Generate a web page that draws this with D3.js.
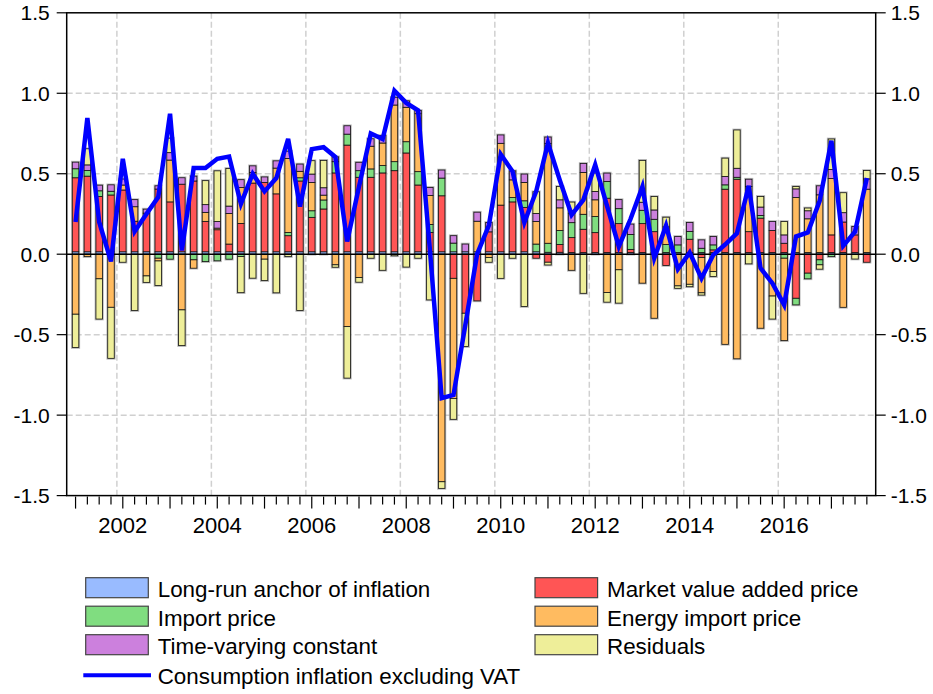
<!DOCTYPE html>
<html>
<head>
<meta charset="utf-8">
<script src="https://cdn.jsdelivr.net/npm/d3@7"></script>
<style>
  body { margin: 0; background: #fff; }
  svg { font-family: "Liberation Sans", Arial, sans-serif; }
</style>
</head>
<body>
<div id="chart"></div>
<script>
// quarters 2001Q1 .. 2017Q4
const years = [2001, 2002, 2003, 2004, 2005, 2006, 2007, 2008, 2009, 2010, 2011, 2012, 2013, 2014, 2015, 2016, 2017];
const quarters = [];
years.forEach(y => [1, 2, 3, 4].forEach(q => quarters.push(y + "Q" + q)));

const labelYears = [2002, 2004, 2006, 2008, 2010, 2012, 2014, 2016];
const yTicks = [-1.5, -1.0, -0.5, 0.0, 0.5, 1.0, 1.5];
const yGrid = [-1.0, -0.5, 0.5, 1.0];

const anchor = [
  0.015, 0.015, 0.015, 0.015, 0.015, 0.015, 0.015, 0.015, 0.015, 0.015,
  0.015, 0.015, 0.015, 0.015, 0.015, 0.015, 0.015, 0.015, 0.015, 0.015,
  0.015, 0.015, 0.015, 0.015, 0.015, 0.015, 0.015, 0.015, 0.015, 0.015,
  0.015, 0.015, 0.015, 0.015, 0.015, 0.015, 0.015, 0.015, 0.015, 0.015,
  0.012, 0.012, 0.01, 0.01, 0.01, 0.01, 0.01, 0.01, 0.01, 0.01,
  0.01, 0.01, 0.01, 0.01, 0.01, 0.01, 0.01, 0.01, 0.01, 0.01,
  0.01, 0.01, 0.01, 0.01, 0.01, 0.01, 0.01, 0.01
];
const market = [
  0.46, 0.47, 0.344, 0.353, 0.384, 0.19, 0.24, 0.39, 0.31, 0.42,
  0.44, 0.189, 0.137, 0.048, 0.176, 0.427, 0.43, 0.36, 0.1, 0.44,
  0.214, 0.266, 0.49, 0.663, 0.463, 0.463, 0.49, 0.504, 0.614, 0.415,
  0.12, 0.348, -0.15, -0.367, -0.29, 0.124, 0.29, 0.31, 0.276, -0.025,
  -0.05, 0.048, 0.093, 0.145, 0.124, 0.338, 0.18, 0.02, 0.18, 0.13,
  -0.07, 0, 0.083, -0.02, 0.017, 0.394, 0.456, 0.13, 0.214, 0.137,
  0.058, -0.274, -0.118, -0.035, 0.11, 0.19, 0.11, -0.05
];
const importPrice = [
  0.056, 0.035, 0.035, 0.023, 0, 0, 0, -0.025, -0.031, 0,
  -0.035, -0.046, -0.041, -0.031, -0.015, 0, 0, 0, 0.02, 0.02,
  0.041, 0.056, 0.07, 0.068, 0.041, 0.052, 0.046, 0.056, 0.07, 0.083,
  0.05, 0.11, 0.054, 0, 0, 0, 0, 0.027, 0.041, 0.048,
  0.056, 0.087, 0.093, 0.093, 0.1, 0.104, 0.093, 0.093, 0.083, 0.077,
  0.05, 0.048, 0.048, 0.027, 0.031, 0.027, 0.012, 0, 0.017, 0,
  -0.025, -0.041, -0.035, -0.031, -0.015, 0, 0, 0
];
const energy = [
  -0.373, -0.015, -0.153, -0.33, 0.031, 0.09, -0.135, -0.017, 0.26, -0.346,
  -0.052, 0.056, 0.01, 0.19, 0.224, 0.066, -0.031, 0.16, 0.46, 0.04,
  0.176, 0.03, -0.066, -0.45, -0.145, 0.141, 0.14, 0.352, 0.214, 0.36,
  0.18, -1.414, -0.746, 0, 0.19, -0.02, 0.384, 0.11, 0.114, 0.14,
  0.62, 0.141, -0.1, 0.26, 0.104, -0.238, -0.097, 0, -0.18, -0.398,
  0.11, -0.197, -0.187, -0.22, -0.108, -0.56, -0.65, 0.28, -0.46, -0.26,
  -0.512, 0.342, 0.21, 0.359, 0.35, -0.33, 0, 0.394
];
const tvc = [
  0.041, 0.035, 0.035, 0.04, 0.037, 0.044, 0.025, 0.02, 0.046, 0.04,
  0.03, 0.048, 0.041, 0.046, 0.048, 0.041, 0.035, 0.045, 0.045, 0.045,
  0.052, 0.046, 0.03, 0.052, 0.052, 0.046, 0.046, 0.048, 0.04, 0.02,
  0.05, 0.05, 0.046, 0.048, 0.056, 0.058, 0.052, 0.056, 0.052, 0.05,
  0.04, 0.05, 0.058, 0.056, 0.052, 0.052, 0.056, 0.064, 0.05, 0.058,
  0, 0.052, 0.056, 0.052, 0.052, 0.052, 0.056, 0.046, 0.052, 0.056,
  0.052, 0.054, 0.05, 0.056, 0.056, 0.058, 0.052, 0.064
];
const resid = [
  -0.207, 0.1, -0.25, -0.317, -0.05, -0.35, -0.04, -0.153, 0.09, -0.222,
  0, 0.149, 0.315, 0.234, -0.224, -0.149, -0.133, -0.24, -0.015, -0.35,
  0.083, 0.17, -0.015, -0.32, -0.029, -0.025, -0.1, -0.01, -0.08, -0.025,
  -0.284, -0.041, -0.13, -0.207, 0, -0.03, -0.15, -0.025, -0.325, 0.135,
  -0.017, 0.083, 0.07, -0.243, 0.114, -0.06, -0.207, 0, 0.26, 0.083,
  0.06, -0.015, -0.015, -0.014, -0.031, 0.114, 0.238, -0.06, 0.066, -0.143,
  0.083, 0.015, 0.017, -0.027, 0.19, 0.124, -0.03, 0.052
];
const inflation = [
  0.2, 0.846, 0.2, -0.045, 0.593, 0.141, 0.25, 0.355, 0.873, 0.023,
  0.535, 0.535, 0.593, 0.607, 0.313, 0.5, 0.39, 0.473, 0.717, 0.296,
  0.653, 0.665, 0.604, 0.079, 0.42, 0.75, 0.715, 1.016, 0.94, 0.894,
  0.03, -0.895, -0.875, -0.44, 0.0, 0.18, 0.62, 0.515, 0.197, 0.39,
  0.69, 0.46, 0.245, 0.338, 0.556, 0.3, 0.048, 0.22, 0.42, -0.025,
  0.178, -0.093, 0.01, -0.15, -0.004, 0.06, 0.13, 0.425, -0.087, -0.18,
  -0.315, 0.11, 0.135, 0.33, 0.705, 0.052, 0.14, 0.473
];

const seriesInfo = [
  {key: "anchor", name: "Long-run anchor of inflation", color: "#99bbff", values: anchor},
  {key: "market", name: "Market value added price", color: "#ff5555", values: market},
  {key: "import", name: "Import price", color: "#80dd80", values: importPrice},
  {key: "energy", name: "Energy import price", color: "#ffbb60", values: energy},
  {key: "tvc", name: "Time-varying constant", color: "#cc80dd", values: tvc},
  {key: "resid", name: "Residuals", color: "#eeee99", values: resid}
];

const table = quarters.map((q, i) => {
  const row = {q: q};
  seriesInfo.forEach(s => row[s.key] = s.values[i]);
  return row;
});

const W = 933, H = 694;
const plotL = 66.7, plotR = 875.7, plotT = 12.8, plotB = 495.6;

const svg = d3.select("#chart").append("svg")
    .attr("width", W)
    .attr("height", H);

const x = d3.scaleBand()
    .domain(quarters)
    .range([plotL, plotR])
    .paddingInner(0.45)
    .paddingOuter(0.475);

const y = d3.scaleLinear()
    .domain([-1.5, 1.5])
    .range([plotB, plotT]);

const step = x.step();
const bw = x.bandwidth();
const cx = q => x(q) + bw / 2;

// grid
const grid = svg.append("g")
    .attr("stroke", "#d0d0d0")
    .attr("stroke-width", 1.5)
    .attr("stroke-dasharray", "6,3");

grid.selectAll("line.h")
    .data(yGrid)
    .enter()
    .append("line")
    .attr("x1", plotL).attr("x2", plotR)
    .attr("y1", d => y(d)).attr("y2", d => y(d));

grid.selectAll("line.v")
    .data(labelYears)
    .enter()
    .append("line")
    .attr("x1", d => cx(d + "Q1") - step / 2)
    .attr("x2", d => cx(d + "Q1") - step / 2)
    .attr("y1", plotT).attr("y2", plotB);

// stacked bars
const stacked = d3.stack()
    .keys(seriesInfo.map(s => s.key))
    .offset(d3.stackOffsetDiverging)(table);

// soft shadow around each bar
const ext = table.map((d, i) => ({
  q: d.q,
  lo: d3.min(stacked, s => s[i][0]),
  hi: d3.max(stacked, s => s[i][1])
}));

svg.append("g")
    .selectAll("rect")
    .data(ext)
    .enter()
    .append("rect")
    .attr("x", d => x(d.q))
    .attr("y", d => y(d.hi))
    .attr("width", bw)
    .attr("height", d => y(d.lo) - y(d.hi))
    .attr("fill", "none")
    .attr("stroke", "#999")
    .attr("stroke-opacity", 0.7)
    .attr("stroke-width", 2.6);

svg.append("g")
    .selectAll("g")
    .data(stacked)
    .enter()
    .append("g")
    .attr("fill", (d, i) => seriesInfo[i].color)
    .selectAll("rect")
    .data(d => d.filter(p => p[1] !== p[0]))
    .enter()
    .append("rect")
    .attr("x", d => x(d.data.q))
    .attr("y", d => y(Math.max(d[0], d[1])))
    .attr("width", bw)
    .attr("height", d => Math.abs(y(d[0]) - y(d[1])))
    .attr("stroke", "#111")
    .attr("stroke-width", 0.8);

// zero line
svg.append("line")
    .attr("x1", plotL).attr("x2", plotR)
    .attr("y1", y(0)).attr("y2", y(0))
    .attr("stroke", "#000")
    .attr("stroke-width", 1.5);

// inflation line
svg.append("path")
    .datum(inflation)
    .attr("fill", "none")
    .attr("stroke", "#0000ff")
    .attr("stroke-width", 4.5)
    .attr("stroke-linejoin", "miter")
    .attr("d", d3.line()
        .x((d, i) => cx(quarters[i]))
        .y(d => y(d)));

// frame
svg.append("rect")
    .attr("x", plotL).attr("y", plotT)
    .attr("width", plotR - plotL)
    .attr("height", plotB - plotT)
    .attr("fill", "none")
    .attr("stroke", "#000")
    .attr("stroke-width", 1.5);

// y axes
const fmt = d => d3.format(".1f")(d).replace("\u2212", "-");

const yl = svg.append("g");
yl.selectAll("line")
    .data(yTicks)
    .enter()
    .append("line")
    .attr("x1", plotL - 10).attr("x2", plotL)
    .attr("y1", d => y(d)).attr("y2", d => y(d))
    .attr("stroke", "#000").attr("stroke-width", 1.2);
yl.selectAll("text")
    .data(yTicks)
    .enter()
    .append("text")
    .attr("x", plotL - 17)
    .attr("y", d => y(d))
    .attr("dy", "0.36em")
    .attr("text-anchor", "end")
    .style("font-size", "21px")
    .text(fmt);

const yr = svg.append("g");
yr.selectAll("line")
    .data(yTicks)
    .enter()
    .append("line")
    .attr("x1", plotR).attr("x2", plotR + 10)
    .attr("y1", d => y(d)).attr("y2", d => y(d))
    .attr("stroke", "#000").attr("stroke-width", 1.2);
yr.selectAll("text")
    .data(yTicks)
    .enter()
    .append("text")
    .attr("x", plotR + 15)
    .attr("y", d => y(d))
    .attr("dy", "0.36em")
    .attr("text-anchor", "start")
    .style("font-size", "21px")
    .text(fmt);

// x axis ticks, long ones at Q1
const xa = svg.append("g");
xa.selectAll("line")
    .data(quarters)
    .enter()
    .append("line")
    .attr("x1", d => cx(d)).attr("x2", d => cx(d))
    .attr("y1", plotB + 1)
    .attr("y2", d => d.endsWith("Q1") ? plotB + 13 : plotB + 9)
    .attr("stroke", "#000").attr("stroke-width", 1.2);
xa.selectAll("text")
    .data(labelYears)
    .enter()
    .append("text")
    .attr("x", d => cx(d + "Q1"))
    .attr("y", 533)
    .attr("text-anchor", "middle")
    .style("font-size", "22px")
    .text(d => d);

// legend
const legendRows = [
  {s: seriesInfo[0], col: 0, row: 0},
  {s: seriesInfo[1], col: 1, row: 0},
  {s: seriesInfo[2], col: 0, row: 1},
  {s: seriesInfo[3], col: 1, row: 1},
  {s: seriesInfo[4], col: 0, row: 2},
  {s: seriesInfo[5], col: 1, row: 2}
];
const colX = [85.7, 535];
const rowY = [577.7, 606.2, 634.7, 663.2];

const lg = svg.append("g");
lg.selectAll("rect")
    .data(legendRows)
    .enter()
    .append("rect")
    .attr("x", d => colX[d.col])
    .attr("y", d => rowY[d.row])
    .attr("width", 62.6)
    .attr("height", 20)
    .attr("fill", d => d.s.color)
    .attr("stroke", "#444")
    .attr("stroke-width", 1.2);
lg.selectAll("text")
    .data(legendRows)
    .enter()
    .append("text")
    .attr("x", d => colX[d.col] + 72)
    .attr("y", d => rowY[d.row] + 19.5)
    .style("font-size", "22.4px")
    .text(d => d.s.name);

lg.append("line")
    .attr("x1", 83.3).attr("x2", 151)
    .attr("y1", 675.3).attr("y2", 675.3)
    .attr("stroke", "#0000ff")
    .attr("stroke-width", 4);
lg.append("text")
    .attr("x", 157.7)
    .attr("y", 683.5)
    .style("font-size", "22.4px")
    .text("Consumption inflation excluding VAT");
</script>
</body>
</html>
